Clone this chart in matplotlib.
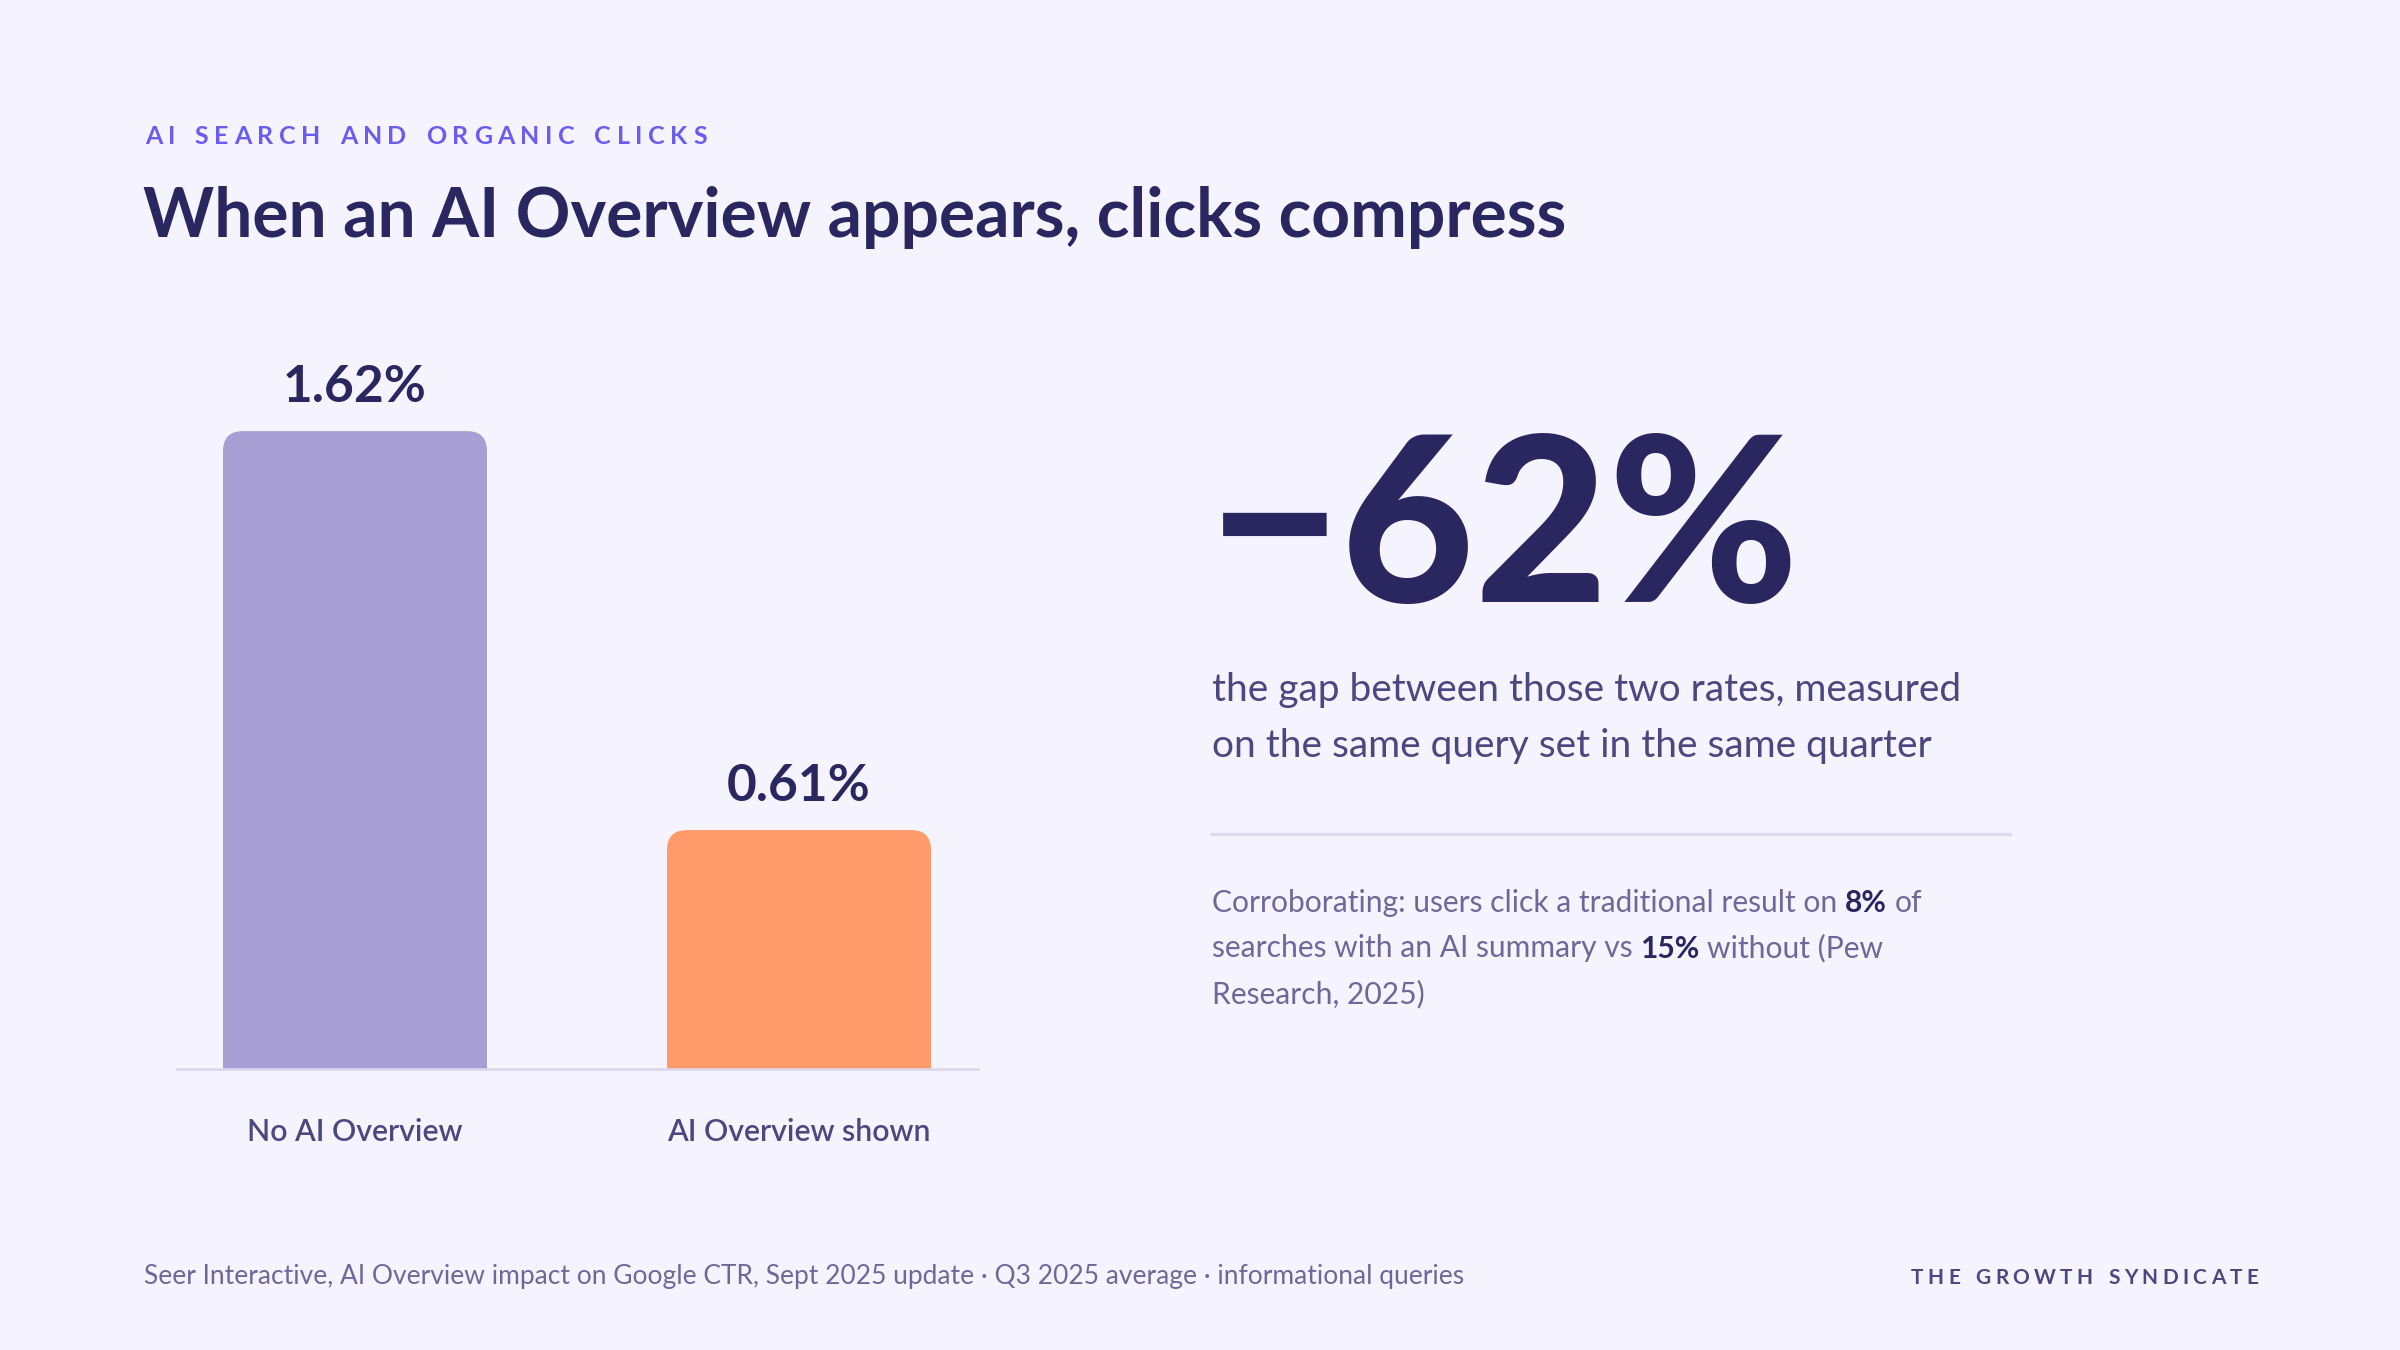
import numpy as np
import matplotlib.pyplot as plt
from matplotlib.patches import FancyBboxPatch

# data
categories = ["No AI Overview", "AI Overview shown"]
ctr = [1.62, 0.61]
bar_colors = ["#a79ed4", "#ff9a6b"]
kicker = "AI SEARCH AND ORGANIC CLICKS"
title = "When an AI Overview appears, clicks compress"
desc_lines = ["the gap between those two rates, measured",
              "on the same query set in the same quarter"]
# corroborating note, (text, bold) pieces per line
note_lines = [
    [("Corroborating: users click a traditional result on ", False), ("8%", True), (" of", False)],
    [("searches with an AI summary vs ", False), ("15%", True), (" without (Pew", False)],
    [("Research, 2025)", False)],
]
source = "Seer Interactive, AI Overview impact on Google CTR, Sept 2025 update \u00b7 Q3 2025 average \u00b7 informational queries"
brand = "THE GROWTH SYNDICATE"

BG = "#f5f4fe"
NAVY = "#2a2660"
MUTED = "#4d4780"
SOFT = "#6d6898"
ACCENT = "#6b5cf0"
RULE = "#dcd9ee"

plt.rcParams['font.family'] = ['Lato', 'DejaVu Sans']

W, H, DPI = 2400, 1350, 200
fig = plt.figure(figsize=(W / DPI, H / DPI), dpi=DPI, facecolor=BG)
renderer = fig.canvas.get_renderer()

def fx(px):
    return px / W

def fy(px_from_top):
    return 1 - px_from_top / H

def text_w(s, **kw):
    t = fig.text(0, 0, s, **kw)
    w = t.get_window_extent(renderer).width
    t.remove()
    return w

def spaced(x, y, s, gap, ha="left", **kw):
    # draw letter-spaced caps one char at a time
    widths = [text_w(c, **kw) if c != " " else text_w("M", **kw) * 0.35 for c in s]
    total = sum(widths) + gap * (len(s) - 1)
    px = x * W - (total if ha == "right" else 0)
    for c, w in zip(s, widths):
        if c != " ":
            fig.text(px / W, y, c, va="baseline", **kw)
        px += w + gap

# chart area
ax_left, ax_right = 176, 980
base_y, top_y = 1071, 331
ax = fig.add_axes([fx(ax_left), 1 - base_y / H, fx(ax_right - ax_left), (base_y - top_y) / H])
ax.set_facecolor(BG)
for s in ax.spines.values():
    s.set_visible(False)

xpos = np.arange(len(categories))
px_per_x = 444
px_per_y = 395
xl = -(355 - ax_left) / px_per_x
ax.set_xlim(xl, xl + (ax_right - ax_left) / px_per_x)
ax.set_ylim(0, (base_y - top_y) / px_per_y)

bars = ax.bar(xpos, ctr, width=264 / px_per_x, color=bar_colors)
rad_px = 20
for b, col in zip(bars, bar_colors):
    b.set_visible(False)
    r = rad_px / px_per_x
    dy = rad_px / px_per_y
    p = FancyBboxPatch((b.get_x(), -dy * 2), b.get_width(), b.get_height() + dy * 2,
                       boxstyle=f"round,pad=0,rounding_size={r}",
                       mutation_aspect=px_per_x / px_per_y,
                       facecolor=col, edgecolor="none", zorder=2)
    ax.add_patch(p)
    ax.annotate(f"{b.get_height():.2f}%", (b.get_x() + b.get_width() / 2, b.get_height()),
                xytext=(0, 10.5), textcoords="offset points", ha="center", va="baseline",
                fontsize=18.5, fontweight="bold", color=NAVY)

ax.axhline(0, color=RULE, lw=2, zorder=3)
ax.set_yticks([])
ax.set_xticks(xpos)
ax.set_xticklabels(categories, fontsize=10.9, color=MUTED, fontweight="semibold")
ax.tick_params(axis="x", length=0, pad=17)

# header
spaced(fx(145), fy(144), kicker, 5.6, fontsize=9, fontweight="bold", color=ACCENT)
fig.text(fx(143), fy(237), title, fontsize=24.4, fontweight="bold", color=NAVY, va="baseline")

# headline stat
change = round((ctr[1] - ctr[0]) / ctr[0] * 100)
fig.text(fx(1208), fy(602), f"\u2212{abs(change)}%", fontsize=83, fontweight="black",
         color=NAVY, va="baseline")

for i, line in enumerate(desc_lines):
    fig.text(fx(1212), fy(701 + i * 56), line, fontsize=14, color=MUTED, va="baseline")

fig.add_artist(plt.Line2D([fx(1212), fx(2010)], [fy(834), fy(834)], color=RULE, lw=1.2))

note_fs = 10.8
sp = text_w("a a", fontsize=note_fs) - text_w("aa", fontsize=note_fs)
for i, pieces in enumerate(note_lines):
    px = 1212
    for txt, bold in pieces:
        lead = len(txt) - len(txt.lstrip(" "))
        trail = len(txt) - len(txt.rstrip(" "))
        px += lead * sp
        core = txt.strip(" ")
        kw = dict(fontsize=note_fs, fontweight="bold" if bold else "normal",
                  color=NAVY if bold else SOFT)
        fig.text(fx(px), fy(912 + i * 45.5), core, va="baseline", **kw)
        px += text_w(core, **kw) + trail * sp

# footer
fig.text(fx(144), fy(1284), source, fontsize=9.5, color=SOFT, va="baseline")
spaced(fx(2258), fy(1284), brand, 4.3, ha="right", fontsize=7.5, fontweight="bold", color=MUTED)

fig.savefig("out.png", dpi=DPI, facecolor=BG)
